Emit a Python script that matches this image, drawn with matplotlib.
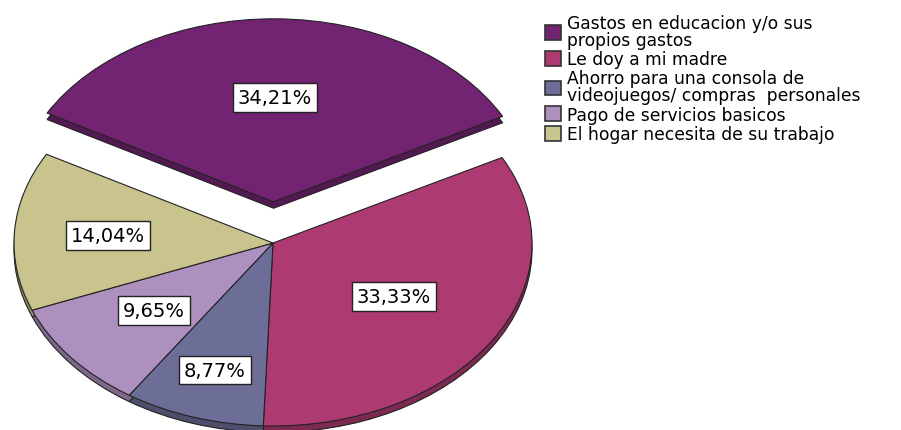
import numpy as np
import matplotlib
matplotlib.use('Agg')
import matplotlib.pyplot as plt
from matplotlib.patches import Patch
from matplotlib.colors import to_rgb

plt.rcParams['font.family'] = ['DejaVu Sans']

categories = [
    'Gastos en educacion y/o sus\npropios gastos',
    'Le doy a mi madre',
    'Ahorro para una consola de\nvideojuegos/ compras  personales',
    'Pago de servicios basicos',
    'El hogar necesita de su trabajo',
]
percents = [34.21, 33.33, 8.77, 9.65, 14.04]
pct_labels = ['34,21%', '33,33%', '8,77%', '9,65%', '14,04%']
colors = ['#722372', '#AE3A72', '#6D6E98', '#AE90BE', '#C9C48D']

explode = [0.225, 0, 0, 0, 0]
label_dist = [0.57, 0.55, 0.73, 0.59, 0.64]
start = 151
depth = 0.035

W, H = 901, 431
fig = plt.figure(figsize=(W / 100, H / 100), dpi=100)
ax = fig.add_axes([0, 0, 1, 1])

# pie centre and radii in pixels -> axis limits
cx, cy = 273, H - 244
rx, ry = 259, 183

dark = [tuple(c * 0.72 for c in to_rgb(col)) for col in colors]

# thickness (darker pie underneath)
ax.pie(percents, colors=dark, explode=explode, startangle=start, counterclock=False,
       center=(0, -depth), radius=1, frame=True,
       wedgeprops=dict(edgecolor='#222222', linewidth=0.8))
wedges, _ = ax.pie(percents, colors=colors, explode=explode, startangle=start,
                   counterclock=False, radius=1, frame=True,
                   wedgeprops=dict(edgecolor='#222222', linewidth=0.8))
ax.set_aspect('auto')
ax.set_xlim(-cx / rx, (W - cx) / rx)
ax.set_ylim(-cy / ry, (H - cy) / ry)
ax.axis('off')

for w, lab, d, ex in zip(wedges, pct_labels, label_dist, explode):
    mid = np.deg2rad((w.theta1 + w.theta2) / 2)
    r = d + ex
    ax.text(r * np.cos(mid), r * np.sin(mid), lab, ha='center', va='center',
            fontsize=14,
            bbox=dict(boxstyle='square,pad=0.25', facecolor='white',
                      edgecolor='#222222', linewidth=1))

handles = [Patch(facecolor=c, edgecolor='#333333', linewidth=1.2) for c in colors]
leg = fig.legend(handles, categories, loc='upper left',
                 bbox_to_anchor=(538 / W, 1 - 8 / H), frameon=False,
                 fontsize=12.3, handlelength=0.95, handleheight=0.95,
                 handletextpad=0.35, labelspacing=0.08, borderaxespad=0)
for t in leg.get_texts():
    t.set_linespacing(0.92)

fig.savefig('out.png', dpi=100)
